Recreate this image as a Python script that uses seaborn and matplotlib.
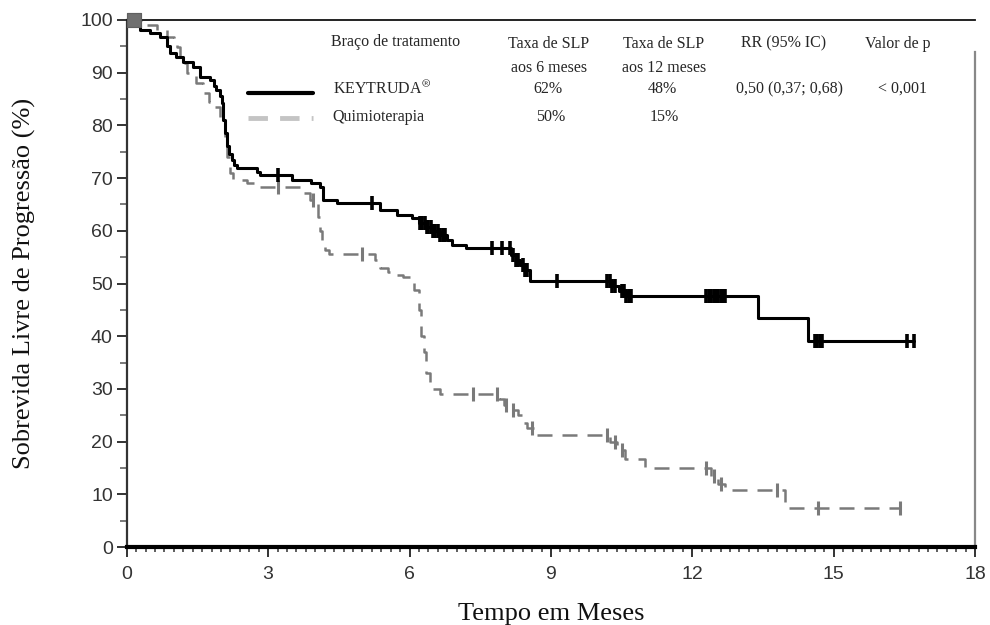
import numpy as np
import pandas as pd
import matplotlib
matplotlib.use("Agg")
import matplotlib.pyplot as plt
from matplotlib.ticker import MultipleLocator
import seaborn as sns

# ---------------- data ----------------
key_time = [0.0, 0.06, 0.28, 0.5, 0.7, 0.85, 0.91, 1.05, 1.19, 1.4, 1.55, 1.76, 1.85,
            1.9, 1.97, 2.02, 2.05, 2.08, 2.12, 2.18, 2.23, 2.28, 2.33, 2.76, 2.82,
            3.5, 3.9, 4.1, 4.17, 4.46, 5.37, 5.73, 6.05, 6.2, 6.35, 6.5, 6.65, 6.8,
            6.9, 7.2, 8.15, 8.25, 8.35, 8.45, 8.56, 10.3, 10.45, 10.6, 13.4, 14.45, 16.7]
key_surv = [100, 99.0, 98.1, 97.5, 96.8, 95.0, 93.7, 93.0, 92.0, 91.1, 89.2, 88.6, 87.5,
            86.7, 85.5, 84.2, 81.0, 78.5, 76.0, 74.5, 73.4, 72.5, 71.9, 71.2, 70.6,
            69.6, 69.0, 68.3, 65.8, 65.2, 63.9, 63.0, 62.4, 61.5, 60.7, 60.0, 59.2, 58.2,
            57.3, 56.7, 55.5, 54.5, 53.5, 52.5, 50.5, 49.5, 48.5, 47.7, 43.4, 39.1, 39.1]
key_censor = [3.2, 5.2, 6.22, 6.27, 6.32, 6.37, 6.4, 6.45, 6.5, 6.55, 6.6, 6.65, 6.7,
              6.75, 7.75, 7.96, 8.13, 8.2, 8.25, 8.3, 8.4, 8.45, 8.5, 9.13, 10.2, 10.25,
              10.3, 10.35, 10.5, 10.55, 10.6, 10.65, 10.7, 12.3, 12.35, 12.4, 12.45, 12.5,
              12.55, 12.6, 12.65, 12.7, 14.6, 14.65, 14.7, 14.75, 16.55, 16.7]

chemo_time = [0.0, 0.35, 0.64, 0.85, 1.0, 1.06, 1.13, 1.27, 1.48, 1.62, 1.75, 1.83, 1.97,
              2.08, 2.12, 2.19, 2.25, 2.55, 2.76, 3.67, 3.88, 4.06, 4.1, 4.15, 4.2, 4.3,
              5.27, 5.37, 5.55, 5.73, 5.86, 6.05, 6.1, 6.2, 6.25, 6.3, 6.35, 6.43, 6.5,
              6.65, 7.9, 8.0, 8.1, 8.3, 8.4, 8.5, 8.7, 10.25, 10.4, 10.57, 11.0, 12.4,
              12.55, 12.7, 13.97, 16.4]
chemo_surv = [100, 99.0, 98.1, 96.8, 95.5, 94.9, 91.8, 89.9, 88.0, 86.1, 84.5, 83.5, 81.0,
              77.2, 74.0, 71.0, 69.6, 69.1, 68.3, 67.2, 65.8, 62.6, 60.0, 57.7, 56.4, 55.6,
              54.5, 53.0, 52.2, 51.6, 51.2, 50.1, 48.8, 45.0, 40.0, 37.0, 33.0, 31.1, 30.0,
              29.0, 28.0, 27.0, 26.0, 25.0, 23.5, 22.5, 21.3, 20.0, 18.4, 16.7, 15.0, 13.5,
              12.0, 10.8, 7.4, 7.4]
chemo_censor = [3.2, 3.95, 5.0, 7.35, 7.85, 8.05, 8.2, 8.6, 10.2, 10.35, 10.5, 12.3,
                12.45, 12.6, 13.8, 14.67, 16.4]

arm_labels = ["KEYTRUDA$^{\\circledR}$", "Quimioterapia"]
col_headers = ["Braço de tratamento", "Taxa de SLP\naos 6 meses", "Taxa de SLP\naos 12 meses",
               "RR (95% IC)", "Valor de p"]
key_row = ["62%", "48%", "0,50 (0,37; 0,68)", "< 0,001"]
chemo_row = ["50%", "15%", "", ""]

x_ticks = [0, 3, 6, 9, 12, 15, 18]
y_ticks = [0, 10, 20, 30, 40, 50, 60, 70, 80, 90, 100]

# ---------------- frames ----------------
key_df = pd.DataFrame({"t": key_time, "s": key_surv})
chemo_df = pd.DataFrame({"t": chemo_time, "s": chemo_surv})


def surv_at(times, surv, c):
    idx = np.searchsorted(np.asarray(times), np.asarray(c), side="right") - 1
    return np.asarray(surv)[idx]


key_c = pd.DataFrame({"t": key_censor, "s": surv_at(key_time, key_surv, key_censor)})
chemo_c = pd.DataFrame({"t": chemo_censor, "s": surv_at(chemo_time, chemo_surv, chemo_censor)})

# ---------------- plot ----------------
sns.set_theme(style="white")
plt.rcParams["font.family"] = ["Liberation Serif", "DejaVu Serif"]
plt.rcParams["mathtext.fontset"] = "stix"

fig = plt.figure(figsize=(9.9, 6.25), dpi=100)
ax = fig.add_axes([0.128, 0.1248, 0.857, 0.8432])

KCOL = "#000000"
CCOL = "#7a7a7a"

sns.lineplot(data=chemo_df, x="t", y="s", ax=ax, color=CCOL, lw=1.8,
             drawstyle="steps-post", linestyle=(0, (6, 4)), estimator=None, sort=False)
sns.lineplot(data=key_df, x="t", y="s", ax=ax, color=KCOL, lw=2.2,
             drawstyle="steps-post", estimator=None, sort=False)
sns.scatterplot(data=chemo_c, x="t", y="s", ax=ax, marker="|", s=90, color=CCOL,
                linewidth=2.2, zorder=4)
sns.scatterplot(data=key_c, x="t", y="s", ax=ax, marker="|", s=110, color=KCOL,
                linewidth=2.6, zorder=5)
sns.scatterplot(x=[0.15], y=[100], ax=ax, marker="s", s=110, color="#707070",
                edgecolor="#606060", zorder=6, clip_on=False)

ax.set_xlim(0, 18)
ax.set_ylim(0, 100)
ax.set_xticks(x_ticks)
ax.set_yticks(y_ticks)
ax.xaxis.set_minor_locator(MultipleLocator(0.2))
ax.yaxis.set_minor_locator(MultipleLocator(5))
ax.tick_params(axis="both", which="major", direction="out", length=7, width=1.4,
               color="#333333", labelsize=14, labelcolor="#333333")
ax.tick_params(axis="x", which="major", pad=7)
ax.tick_params(axis="y", which="major", pad=3)
ax.tick_params(axis="x", which="minor", direction="out", length=3.5, width=1.1, color="#333333")
ax.tick_params(axis="y", which="minor", direction="out", length=5, width=1.1, color="#555555")
ax.xaxis.set_ticks_position("bottom")
ax.yaxis.set_ticks_position("left")
for lab in ax.get_xticklabels() + ax.get_yticklabels():
    lab.set_family(["Liberation Sans", "DejaVu Sans"])

ax.spines["left"].set_color("#333333")
ax.spines["left"].set_linewidth(1.6)
ax.spines["bottom"].set_color("#000000")
ax.spines["bottom"].set_linewidth(3.0)
ax.spines["top"].set_color("#111111")
ax.spines["top"].set_linewidth(1.3)
ax.spines["right"].set_color("#888888")
ax.spines["right"].set_linewidth(1.6)
ax.spines["right"].set_bounds(0, 94)

ax.set_xlabel("Tempo em Meses", fontsize=19, labelpad=14, color="#111111")
ax.set_ylabel("Sobrevida Livre de Progressão (%)", fontsize=19, labelpad=32, color="#111111")

# legend-like table
tfs = 11.5
ax.plot([0.143, 0.219], [0.861, 0.861], transform=ax.transAxes, color="#000000", lw=3,
        solid_capstyle="round")
ax.plot([0.143, 0.219], [0.814, 0.814], transform=ax.transAxes, color="#c4c4c4", lw=3.5,
        linestyle=(0, (4, 2.5)))
ax.text(4.33, 95.8, col_headers[0], fontsize=tfs, ha="left", va="center")
ax.text(4.37, 86.9, arm_labels[0], fontsize=tfs, ha="left", va="center")
ax.text(4.37, 81.5, arm_labels[1], fontsize=tfs, ha="left", va="center")
col_x = [8.96, 11.4, 13.93, 16.35]
val_x = [8.94, 11.36, 14.06, 16.45]
for cx, h in zip(col_x, col_headers[1:]):
    ax.text(cx, 97.0, h, fontsize=tfs, ha="center", va="top", linespacing=1.65)
for vx, v in zip(val_x, key_row):
    ax.text(vx, 86.9, v, fontsize=tfs, ha="center", va="center")
for vx, v in zip(val_x, chemo_row):
    if v:
        ax.text(vx + 0.05, 81.6, v, fontsize=tfs, ha="center", va="center")

fig.savefig("out.png", dpi=100, facecolor="white")
